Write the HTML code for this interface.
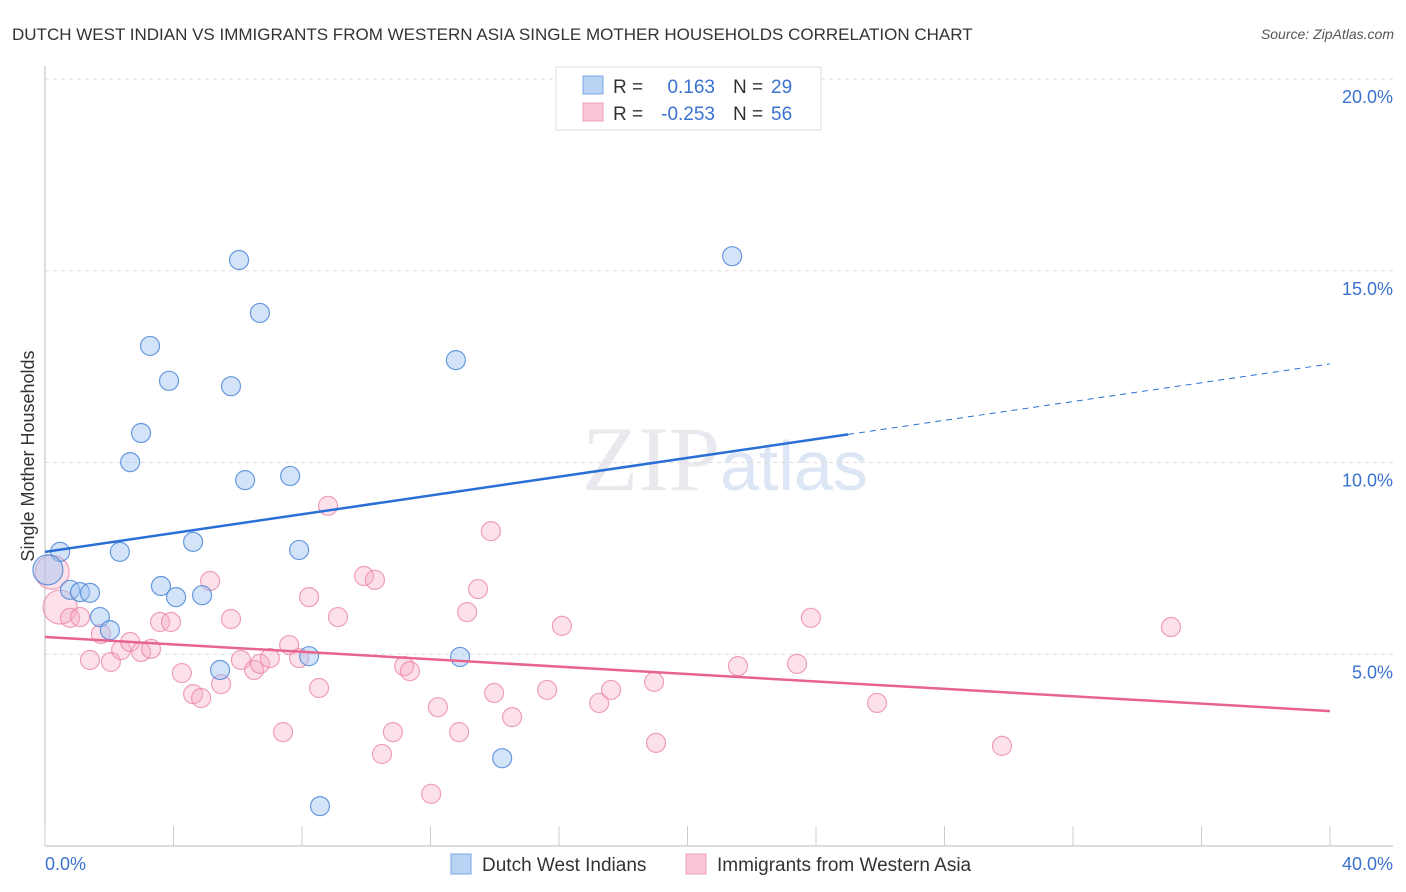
<!DOCTYPE html>
<html><head><meta charset="utf-8"><style>
body{margin:0;background:#fff;font-family:"Liberation Sans",sans-serif;}
#wrap{position:relative;width:1406px;height:892px;overflow:hidden;}
</style></head><body>
<div id="wrap">
<svg id="svg" width="1406" height="892" xmlns="http://www.w3.org/2000/svg">
<text x="12" y="40" font-size="17" fill="#333">DUTCH WEST INDIAN VS IMMIGRANTS FROM WESTERN ASIA SINGLE MOTHER HOUSEHOLDS CORRELATION CHART</text>
<text x="1394" y="39" font-size="14" fill="#555" font-style="italic" text-anchor="end">Source: ZipAtlas.com</text>
<text x="720" y="490" font-size="92" fill="#e8e8ee" text-anchor="end" font-family="Liberation Serif,serif">ZIP</text>
<text x="720" y="490" font-size="70" fill="#dde6f4">atlas</text>
<g id="grid"></g>
<g id="axes"></g>
<g id="pts"></g>
<g id="lines"></g>
<text transform="translate(34,456) rotate(-90)" font-size="18" fill="#333" text-anchor="middle">Single Mother Households</text>
<g>
<rect x="556" y="67" width="265" height="63" fill="#fff" stroke="#ddd"/>
<rect x="583" y="76" width="20" height="18" fill="#b9d3f4" stroke="#7aa6e6"/>
<rect x="583" y="103" width="20" height="18" fill="#f8c6d4" stroke="#eda0b8"/>
<text x="613" y="93" font-size="19" fill="#333">R = </text><text x="715" y="93" font-size="19" fill="#3a72cf" text-anchor="end">0.163</text>
<text x="733" y="93" font-size="19" fill="#333">N = </text><text x="771" y="93" font-size="19" fill="#3a72cf">29</text>
<text x="613" y="120" font-size="19" fill="#333">R = </text><text x="715" y="120" font-size="19" fill="#3a72cf" text-anchor="end">-0.253</text>
<text x="733" y="120" font-size="19" fill="#333">N = </text><text x="771" y="120" font-size="19" fill="#3a72cf">56</text>
</g>
<text x="45" y="870" font-size="18" fill="#3a72cf">0.0%</text>
<text x="1393" y="870" font-size="18" fill="#3a72cf" text-anchor="end">40.0%</text>
<g>
<rect x="451" y="854" width="20" height="20" fill="#b9d3f4" stroke="#7aa6e6"/>
<text x="482" y="871" font-size="19" fill="#333">Dutch West Indians</text></g>
<g>
<rect x="686" y="854" width="20" height="20" fill="#f8c6d4" stroke="#eda0b8"/>
<text x="717" y="871" font-size="19" fill="#333">Immigrants from Western Asia</text></g>
</svg>
</div>
<script>
const yTicks=[5,10,15,20];
const yTickLabels=["5.0%","10.0%","15.0%","20.0%"];
const xTicks=[0,4,8,12,16,20,24,28,32,36,40];
const blueX=[0.47,0.09,0.78,1.09,1.40,1.71,2.02,2.33,2.65,2.99,3.27,3.61,3.86,4.08,4.61,4.89,5.45,5.79,6.04,6.23,6.69,7.63,7.91,8.22,8.56,12.79,12.92,14.23,21.39];
const blueY=[7.67,7.20,6.68,6.62,6.60,5.97,5.63,7.67,10.01,10.77,13.04,6.78,12.13,6.49,7.93,6.54,4.59,11.99,15.28,9.54,13.90,9.65,7.72,4.95,1.04,12.67,4.93,2.29,15.38];
const pinkX=[0.22,0.47,0.78,1.09,1.40,1.74,2.05,2.37,2.65,2.99,3.30,3.58,3.92,4.26,4.61,4.86,5.14,5.48,5.79,6.10,6.51,6.69,7.00,7.41,7.60,7.91,8.22,8.53,8.81,9.12,9.93,10.27,10.49,10.83,11.18,11.36,12.02,12.23,12.89,13.14,13.48,13.88,13.98,14.54,15.63,16.09,17.25,17.62,18.96,19.02,21.57,23.41,23.84,25.90,29.79,35.05];
const pinkY=[7.14,6.23,5.95,5.97,4.85,5.53,4.80,5.11,5.32,5.06,5.14,5.84,5.84,4.51,3.96,3.86,6.91,4.22,5.92,4.85,4.59,4.75,4.90,2.97,5.24,4.90,6.49,4.12,8.87,5.97,7.04,6.94,2.40,2.97,4.69,4.56,1.36,3.62,2.97,6.10,6.70,8.21,3.99,3.36,4.07,5.74,3.73,4.07,4.28,2.69,4.69,4.75,5.95,3.73,2.61,5.71];
const blueTrend=[7.67,0.1225]; // intercept, slope
const pinkTrend=[5.45,-0.0483];
const blueSolidEnd=25;
const NS="http://www.w3.org/2000/svg";
function sx(v){return 45+v*32.125;}
function sy(v){return 846-v*38.35;}
function mk(tag,attrs,parent){const e=document.createElementNS(NS,tag);for(const k in attrs)e.setAttribute(k,attrs[k]);parent.appendChild(e);return e;}
const grid=document.getElementById('grid'),axes=document.getElementById('axes'),pts=document.getElementById('pts'),lines=document.getElementById('lines');
yTicks.forEach((t,i)=>{
 const l=mk('line',{x1:45,x2:1393,y1:sy(t),y2:sy(t),stroke:'#ddd','stroke-dasharray':'4,4'},grid);
 
 
 const tx=mk('text',{x:1393,y:sy(t)+24,'font-size':18,fill:'#3a72cf','text-anchor':'end'},grid);
 tx.textContent=yTickLabels[i];
 
 
});
const ya=mk('line',{x1:45,x2:45,y1:66,y2:846,stroke:'#bbb'},axes);


const xa=mk('line',{x1:45,x2:1393,y1:846,y2:846,stroke:'#bbb'},axes);


xTicks.forEach(t=>{
 const l=mk('line',{x1:sx(t),x2:sx(t),y1:826,y2:846,stroke:'#ccc'},axes);
 
 
});
pinkX.forEach((x,i)=>{
 const r=i<2?17:9.5;
 const c=mk('circle',{cx:sx(x),cy:sy(pinkY[i]),r:r,fill:'rgba(246,170,196,0.35)',stroke:'rgba(234,130,165,0.75)','stroke-width':1.2},pts);
 
 
});
blueX.forEach((x,i)=>{
 const r=i==1?15:9.5;
 const c=mk('circle',{cx:sx(x),cy:sy(blueY[i]),r:r,fill:'rgba(160,195,240,0.45)',stroke:'rgba(70,130,215,0.8)','stroke-width':1.2},pts);
 
 
});
const bs=mk('line',{x1:sx(0),y1:sy(blueTrend[0]),x2:sx(blueSolidEnd),y2:sy(blueTrend[0]+blueTrend[1]*blueSolidEnd),stroke:'#2a6fd6','stroke-width':2.5},lines);


const bd=mk('line',{x1:sx(blueSolidEnd),y1:sy(blueTrend[0]+blueTrend[1]*blueSolidEnd),x2:sx(40),y2:sy(blueTrend[0]+blueTrend[1]*40),stroke:'#2a6fd6','stroke-width':1,'stroke-dasharray':'6,5'},lines);


const pl=mk('line',{x1:sx(0),y1:sy(pinkTrend[0]),x2:sx(40),y2:sy(pinkTrend[0]+pinkTrend[1]*40),stroke:'#e8648f','stroke-width':2.5},lines);


</script>
</body></html>
